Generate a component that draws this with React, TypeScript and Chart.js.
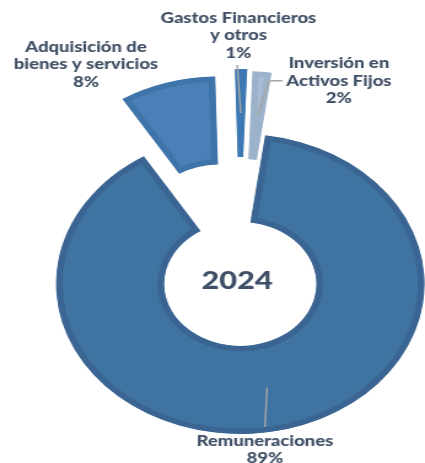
import React, { useEffect, useRef } from 'react';
import { Chart, registerables } from 'chart.js';

Chart.register(...registerables);

// ---- data ----
const categories = [
  'Remuneraciones',
  'Adquisición de bienes y servicios',
  'Gastos Financieros y otros',
  'Inversión en Activos Fijos',
];
const labelLines = [
  ['Remuneraciones'],
  ['Adquisición de', 'bienes y servicios'],
  ['Gastos Financieros', 'y otros'],
  ['Inversión en', 'Activos Fijos'],
];
const values = [89.0, 8.4, 1.0, 1.6];
const percentLabels = ['89%', '8%', '1%', '2%'];
const centerLabel = '2024';

// ---- styles / layout ----
const FILL = ['#3F73A1', '#4A80B7', '#4A86C4', '#A8BDD5'];
const BORDER = ['#3A6592', '#3F74AA', '#3E78B2', '#9CB2CB'];
const EXPLODE = [3, 57, 62, 60];
const LABEL_ANGLE = [173, -30, -0.2, 22];
const LABEL_RADIUS = [170, 250, 245.5, 216];
const LEADER = ['top', 'none', 'bottom', 'left'];

const W = 425;
const H = 463;
const CW = 346;
const SX = W / CW;
const CENTER_X = 239.5 / SX;
const CENTER_Y = 281;
const OUTER = 150;
const CUTOUT = '41.3%';
const ROTATION = 7.9;
const FONT = 'Lato, "Open Sans", sans-serif';
const TEXT_COLOR = '#3F4F65';
const LINE_H = 17.5;

const explodePlugin = {
  id: 'explodeSlices',
  beforeDatasetDraw(chart: any, args: any) {
    const meta = chart.getDatasetMeta(args.index);
    meta.data.forEach((el: any, i: number) => {
      if (el.__patched) return;
      const orig = el.draw.bind(el);
      el.draw = (ctx: CanvasRenderingContext2D, area: any) => {
        const d = EXPLODE[i] || 0;
        const mid = (el.startAngle + el.endAngle) / 2;
        ctx.save();
        ctx.translate(Math.cos(mid) * d, Math.sin(mid) * d);
        orig(ctx, area);
        ctx.restore();
      };
      el.__patched = true;
    });
  },
};

const labelPlugin = {
  id: 'sliceLabels',
  afterDatasetsDraw(chart: any) {
    const ctx: CanvasRenderingContext2D = chart.ctx;
    const meta = chart.getDatasetMeta(0);
    const first = meta.data[0];
    const cx = first.x;
    const cy = first.y;
    ctx.save();
    ctx.fillStyle = TEXT_COLOR;
    ctx.textAlign = 'center';
    ctx.textBaseline = 'middle';
    ctx.font = `900 25px ${FONT}`;
    ctx.fillText(centerLabel, cx - 2, cy);

    ctx.font = `900 15px ${FONT}`;
    meta.data.forEach((el: any, i: number) => {
      const mid = (el.startAngle + el.endAngle) / 2;
      const d = EXPLODE[i] || 0;
      const ox = el.x + Math.cos(mid) * d;
      const oy = el.y + Math.sin(mid) * d;
      const rMid = (el.innerRadius + el.outerRadius) / 2;
      const ax = ox + Math.cos(mid) * rMid;
      const ay = oy + Math.sin(mid) * rMid;
      const la = ((LABEL_ANGLE[i] - 90) * Math.PI) / 180;
      const lx = cx + Math.cos(la) * LABEL_RADIUS[i];
      const ly = cy + Math.sin(la) * LABEL_RADIUS[i];
      const lines = [...labelLines[i], percentLabels[i]];
      const top = ly - ((lines.length - 1) * LINE_H) / 2;
      const bottom = top + (lines.length - 1) * LINE_H;
      const maxW = Math.max(...lines.map((t) => ctx.measureText(t).width));

      ctx.strokeStyle = '#A6A6A6';
      ctx.lineWidth = 1.4;
      ctx.beginPath();
      if (LEADER[i] === 'top') {
        ctx.moveTo(ax, ay);
        ctx.lineTo(lx, top - 14);
      } else if (LEADER[i] === 'bottom') {
        ctx.moveTo(ax, ay);
        ctx.lineTo(lx - 1, bottom + 12);
      } else if (LEADER[i] === 'left') {
        const ex = lx - maxW / 2 - 3.3;
        ctx.moveTo(ax, ay);
        ctx.lineTo(ex - 10.6, ly);
        ctx.lineTo(ex, ly);
      }
      ctx.stroke();

      lines.forEach((t, k) => ctx.fillText(t, lx, top + k * LINE_H));
    });
    ctx.restore();
  },
};

export default function App() {
  const ref = useRef<HTMLCanvasElement | null>(null);
  useEffect(() => {
    if (!ref.current) return;
    const padLeft = Math.max(2 * CENTER_X - CW, 0);
    const padRight = Math.max(CW - 2 * CENTER_X, 0);
    const padTop = Math.max(2 * CENTER_Y - H, 0);
    const padBottom = Math.max(H - 2 * CENTER_Y, 0);
    const chart = new Chart(ref.current, {
      type: 'doughnut',
      data: {
        labels: categories,
        datasets: [
          {
            data: values,
            backgroundColor: FILL,
            borderColor: BORDER,
            borderWidth: 5,
            borderAlign: 'inner',
            borderJoinStyle: 'miter',
          } as any,
        ],
      },
      options: {
        responsive: false,
        animation: false,
        events: [],
        radius: OUTER,
        cutout: CUTOUT,
        rotation: ROTATION,
        layout: { padding: { left: padLeft, right: padRight, top: padTop, bottom: padBottom } },
        plugins: { legend: { display: false }, tooltip: { enabled: false } },
      } as any,
      plugins: [explodePlugin, labelPlugin],
    });
    return () => chart.destroy();
  }, []);
  return (
    <div style={{ position: 'fixed', left: 0, top: 0, width: W, height: H, background: '#fff' }}>
      <canvas
        ref={ref}
        width={CW}
        height={H}
        style={{ width: `${W}px`, height: `${H}px`, display: 'block' }}
      />
    </div>
  );
}
